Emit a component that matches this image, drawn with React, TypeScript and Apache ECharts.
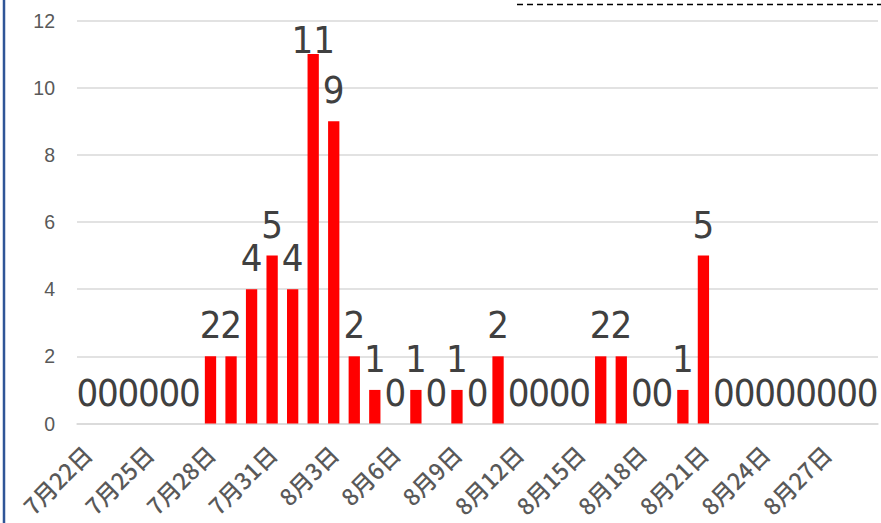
import React, { useEffect, useRef } from "react";
import * as echarts from "echarts";

const categories: string[] = [
  "7月22日", "7月23日", "7月24日", "7月25日", "7月26日", "7月27日", "7月28日", "7月29日", "7月30日", "7月31日",
  "8月1日", "8月2日", "8月3日", "8月4日", "8月5日", "8月6日", "8月7日", "8月8日", "8月9日", "8月10日",
  "8月11日", "8月12日", "8月13日", "8月14日", "8月15日", "8月16日", "8月17日", "8月18日", "8月19日", "8月20日",
  "8月21日", "8月22日", "8月23日", "8月24日", "8月25日", "8月26日", "8月27日", "8月28日", "8月29日",
];

const cases: number[] = [
  0, 0, 0, 0, 0, 0, 2, 2, 4, 5,
  4, 11, 9, 2, 1, 0, 1, 0, 1, 0,
  2, 0, 0, 0, 0, 2, 2, 0, 0, 1,
  5, 0, 0, 0, 0, 0, 0, 0, 0,
];

const yMin = 0;
const yMax = 12;
const yInterval = 2;

const W = 881;
const H = 523;
const GRID_LEFT = 77;
const GRID_RIGHT = 3;
const GRID_TOP = 20.5;
const GRID_BOTTOM = 99.5;
const LABEL_FONT = 38;
const LABEL_DIST = 12;

export default function App() {
  const ref = useRef<HTMLDivElement>(null);
  useEffect(() => {
    document.body.style.margin = "0";
    document.body.style.overflow = "hidden";
    const chart = echarts.init(ref.current!, null, { renderer: "svg", width: W, height: H });
    const plotH = H - GRID_TOP - GRID_BOTTOM;
    const data = cases.map((v) => {
      const y = GRID_TOP + (1 - (v - yMin) / (yMax - yMin)) * plotH;
      const labelTop = y - LABEL_DIST - LABEL_FONT;
      if (labelTop < GRID_TOP - 2) {
        return { value: v, label: { offset: [0, GRID_TOP - labelTop] } };
      }
      return v;
    });
    chart.setOption({
      animation: false,
      backgroundColor: "#ffffff",
      grid: { left: GRID_LEFT, right: GRID_RIGHT, top: GRID_TOP, bottom: GRID_BOTTOM, containLabel: false },
      xAxis: {
        type: "category",
        data: categories,
        axisLine: { show: true, lineStyle: { color: "#d9d9d9", width: 1.5 } },
        axisTick: { show: false },
        axisLabel: {
          interval: 2,
          rotate: 45,
          margin: 26,
          fontSize: 23,
          fontWeight: 500,
          color: "#595959",
          fontFamily: "'Noto Sans CJK JP', sans-serif",
        },
      },
      yAxis: {
        type: "value",
        min: yMin,
        max: yMax,
        interval: yInterval,
        axisLine: { show: false },
        axisTick: { show: false },
        splitLine: { show: true, lineStyle: { color: "#d9d9d9", width: 1.5 } },
        axisLabel: {
          margin: 22,
          fontSize: 19.5,
          color: "#595959",
          fontFamily: "'Liberation Sans', 'Open Sans', sans-serif",
        },
      },
      series: [
        {
          type: "bar",
          data,
          barWidth: "55%",
          itemStyle: { color: "#ff0000" },
          label: {
            show: true,
            position: "top",
            distance: LABEL_DIST,
            fontSize: LABEL_FONT,
            color: "#404040",
            fontFamily: "'Liberation Sans Narrow', 'DejaVu Sans Condensed', 'Roboto Condensed', Roboto, sans-serif",
          },
        },
      ],
      graphic: [
        {
          type: "line",
          shape: { x1: 4, y1: 0, x2: 4, y2: H },
          style: { stroke: "#2f5597", lineWidth: 2.5 },
        },
        {
          type: "line",
          shape: { x1: 517, y1: 4.5, x2: W, y2: 4.5 },
          style: { stroke: "#000000", lineWidth: 1.5, lineDash: [6, 4] },
        },
      ],
    });
    return () => chart.dispose();
  }, []);
  return <div ref={ref} style={{ width: W, height: H, overflow: "hidden" }} />;
}
